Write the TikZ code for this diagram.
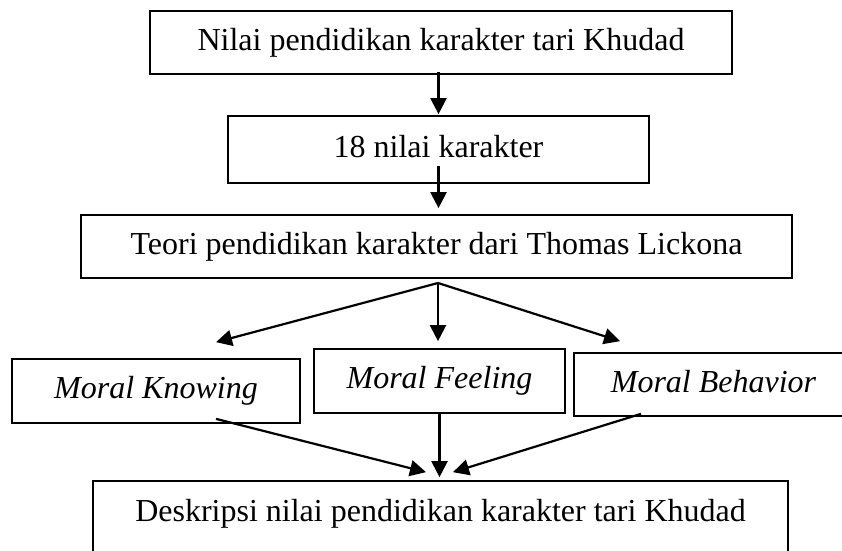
\documentclass[tikz,border=0pt]{standalone}
\usepackage{fontspec}
\setmainfont{Liberation Serif}
\usetikzlibrary{arrows.meta}
\begin{document}
\begin{tikzpicture}[x=1pt,y=-1pt,
  box/.style={draw, line width=1.7pt, inner sep=0pt, font=\fontsize{32}{38}\selectfont, text height=22pt, text depth=7pt},
  arr/.style={line width=2.2pt, -{Triangle[length=16pt,width=16pt]}}]
\clip (0,0) rectangle (842,550);
\node[box, minimum width=582pt, minimum height=63pt] (n1) at (441,42.5) {Nilai pendidikan karakter tari Khudad};
\node[box, minimum width=421pt, minimum height=67pt] (n2) at (438.5,149.5) {18 nilai karakter};
\node[box, minimum width=711pt, minimum height=63pt] (n3) at (436.5,246.5) {Teori pendidikan karakter dari Thomas Lickona};
\node[box, minimum width=288pt, minimum height=64pt] (mk) at (156,391) {\itshape Moral Knowing};
\node[box, minimum width=251pt, minimum height=64pt] (mf) at (439.5,381) {\itshape Moral Feeling};
\node[box, minimum width=279pt, minimum height=63pt] (mb) at (713.5,384.5) {\itshape Moral Behavior};
\node[box, minimum width=695pt, minimum height=79pt, text depth=21pt] (d) at (440.5,520.5) {Deskripsi nilai pendidikan karakter tari Khudad};
\coordinate (fork) at (438,283);
\draw[arr, shorten <=-3pt, shorten >=1pt] (n2.north |- n1.south) -- (n2.north);
\draw[arr, shorten <=-18pt, shorten >=6pt] (n2.south) -- (n2.south |- n3.north);
\draw[arr] (fork) -- ([xshift=60pt,yshift=16pt]mk.north);
\draw[arr, shorten >=7pt] (fork) -- (fork |- mf.north);
\draw[arr] (fork) -- ([xshift=-93.5pt,yshift=11pt]mb.north);
\draw[arr] ([xshift=60pt,yshift=5pt]mk.south) -- ([xshift=-14.5pt,yshift=8pt]d.north);
\draw[arr, shorten >=3pt] (mf.south) -- (mf.south |- d.north);
\draw[arr] ([xshift=-72.5pt,yshift=3pt]mb.south) -- ([xshift=12.5pt,yshift=8pt]d.north);
\end{tikzpicture}
\end{document}
